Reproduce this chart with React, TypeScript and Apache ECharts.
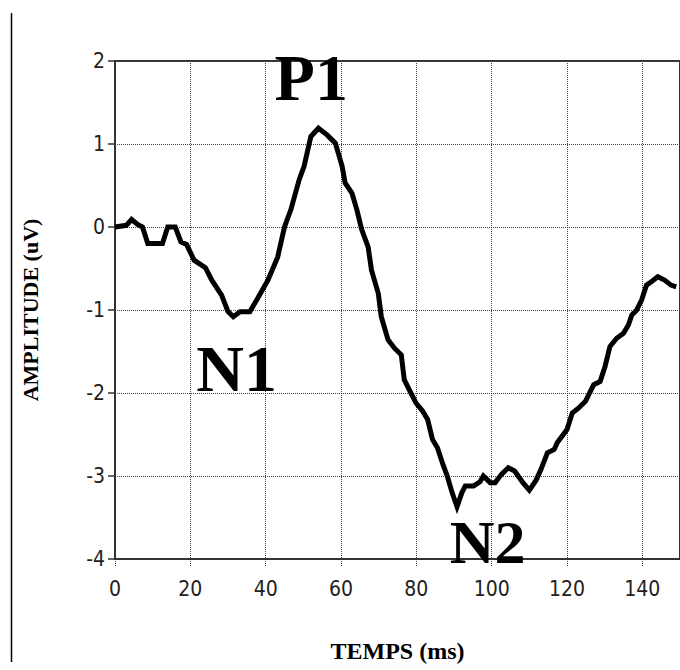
import React, { useEffect, useRef } from "react";
import * as echarts from "echarts";

const times: number[] = [
  0, 3, 4.4, 6, 7.3, 8.7, 10.5, 12.6, 14, 16, 17.5, 19, 21, 24, 25.7, 28.3, 30, 31.4, 33.2, 35.8,
  38, 40.6, 43.2, 45, 46.7, 48.9, 50.2, 52, 54, 56.3, 58.5, 60.3, 61.1, 62.9, 64.2, 65.5, 67.2,
  68.1, 69.9, 70.7, 72.5, 74.2, 76, 76.8, 78.1, 79.9, 81.7, 83, 84.3, 85.6, 86.9, 88.2, 89.5,
  90.8, 92.1, 93, 95.2, 96.9, 97.8, 99.6, 100.9, 102.6, 104.4, 106.1, 108.3, 110, 111.8, 113.1,
  114.8, 116.6, 117.4, 120, 121.4, 123.1, 124.9, 127.1, 128.8, 130.1, 131.4, 133.2, 135, 136.3,
  137.2, 138.5, 139.8, 141.1, 142.4, 144.1, 145.9, 147.6, 149,
];
const amplitudes: number[] = [
  0, 0.02, 0.09, 0.03, 0, -0.2, -0.2, -0.2, 0, 0, -0.18, -0.21, -0.4, -0.49, -0.64, -0.82, -1.02,
  -1.08, -1.02, -1.02, -0.85, -0.64, -0.36, 0, 0.21, 0.57, 0.73, 1.09, 1.19, 1.11, 1.01, 0.73,
  0.53, 0.41, 0.21, -0.03, -0.24, -0.52, -0.8, -1.08, -1.36, -1.46, -1.54, -1.84, -1.96, -2.12,
  -2.22, -2.32, -2.56, -2.66, -2.84, -3.0, -3.2, -3.37, -3.2, -3.12, -3.12, -3.07, -3.0, -3.08,
  -3.08, -2.98, -2.9, -2.94, -3.08, -3.17, -3.05, -2.92, -2.72, -2.68, -2.6, -2.44, -2.24, -2.18,
  -2.1, -1.9, -1.86, -1.68, -1.44, -1.34, -1.28, -1.18, -1.06, -1.0, -0.88, -0.7, -0.66, -0.6,
  -0.64, -0.7, -0.72,
];
const peakLabels: string[] = ["P1", "N1", "N2"];
const peakTimes: number[] = [52.1, 32.3, 98.9];
const peakAmps: number[] = [1.8, -1.71, -3.8];

const xTitle = "TEMPS (ms)";
const yTitle = "AMPLITUDE (uV)";

export default function App() {
  const ref = useRef<HTMLDivElement>(null);
  useEffect(() => {
    if (!ref.current) return;
    const chart = echarts.init(ref.current, undefined, { renderer: "svg" });
    const tickFont = "'DejaVu Sans Condensed', 'Liberation Sans Narrow', 'DejaVu Sans', sans-serif";
    const serif = "'Liberation Serif', 'Times New Roman', serif";
    chart.setOption({
      animation: false,
      backgroundColor: "#ffffff",
      grid: {
        left: 115,
        top: 61,
        right: -8,
        bottom: 111,
        show: true,
        borderColor: "#333",
        borderWidth: 2,
        backgroundColor: "transparent",
      },
      xAxis: {
        type: "value",
        min: 0,
        max: 150,
        interval: 20,
        name: xTitle,
        nameLocation: "middle",
        nameGap: 80,
        nameTextStyle: { fontFamily: serif, fontWeight: "bold", fontSize: 24, color: "#000" },
        axisLine: { show: true, onZero: false, lineStyle: { color: "#333", width: 2 } },
        axisTick: { show: true, inside: false, length: 7, lineStyle: { color: "#333", width: 1, type: "dotted" } },
        axisLabel: { fontFamily: tickFont, fontSize: 21, color: "#222", margin: 19, showMaxLabel: false },
        splitLine: { show: true, lineStyle: { color: "#444", width: 1, type: "dotted" } },
      },
      yAxis: {
        type: "value",
        min: -4,
        max: 2,
        interval: 1,
        name: yTitle,
        nameLocation: "middle",
        nameGap: 74,
        nameTextStyle: { fontFamily: serif, fontWeight: "bold", fontSize: 22, color: "#000" },
        axisLine: { show: true, onZero: false, lineStyle: { color: "#333", width: 2 } },
        axisTick: { show: true, inside: false, length: 7, lineStyle: { color: "#333", width: 1.5 } },
        axisLabel: { fontFamily: tickFont, fontSize: 21, color: "#222", margin: 10 },
        splitLine: { show: true, lineStyle: { color: "#444", width: 1, type: "dotted" } },
      },
      series: [
        {
          type: "line",
          data: times.map((t, i) => [t, amplitudes[i]]),
          showSymbol: false,
          symbol: "none",
          lineStyle: { color: "#000", width: 5, join: "miter" },
          clip: true,
          z: 5,
        },
        {
          type: "scatter",
          data: peakTimes.map((t, i) =>
            i === 2
              ? { value: [t, peakAmps[i], peakLabels[i]], label: { fontSize: 62, lineHeight: 44 } }
              : { value: [t, peakAmps[i], peakLabels[i]] }
          ),
          symbolSize: 2,
          itemStyle: { color: "rgba(0,0,0,0)", opacity: 0 },
          clip: false,
          silent: true,
          z: 6,
          label: {
            show: true,
            position: "inside",
            formatter: (p: any) => p.value[2],
            fontFamily: serif,
            fontWeight: "bold",
            fontSize: 66,
            lineHeight: 46,
            color: "#000000",
            opacity: 1,
            textBorderWidth: 0,
            textShadowBlur: 0,
          },
          labelLayout: { hideOverlap: false },
        },
      ],
      graphic: [
        {
          type: "line",
          shape: { x1: 11.5, y1: 13, x2: 11.5, y2: 662 },
          style: { stroke: "#000", lineWidth: 1.5 },
        },
      ],
    });
    return () => chart.dispose();
  }, []);
  return (
    <div
      ref={ref}
      style={{ position: "absolute", left: 0, top: 0, width: 680, height: 670, background: "#fff" }}
    />
  );
}
